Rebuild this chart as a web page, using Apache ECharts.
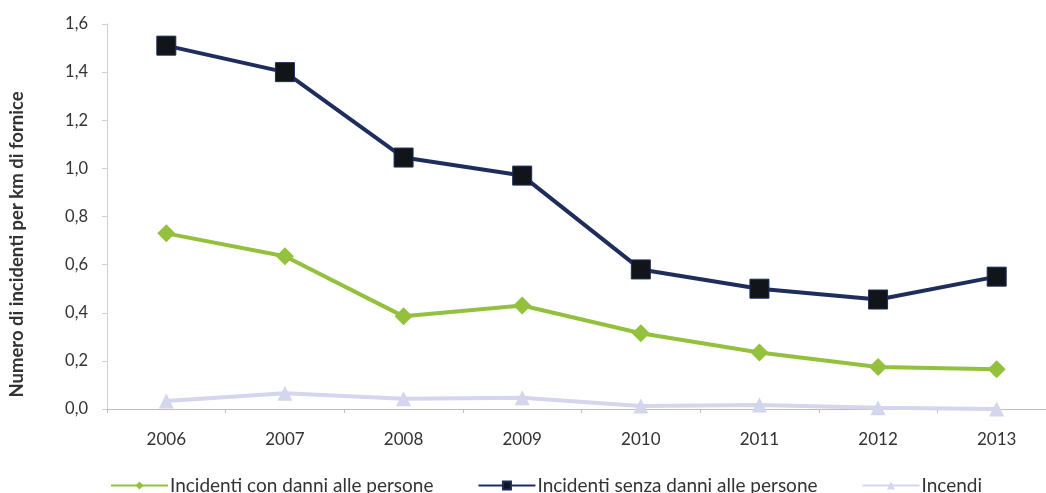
<!DOCTYPE html>
<html><head><meta charset="utf-8">
<script src="https://cdn.jsdelivr.net/npm/echarts@6/dist/echarts.min.js"></script>
<style>html,body{margin:0;padding:0;background:#fff;overflow:hidden}#c{width:1062px;height:493px}</style>
</head><body><div id="c"></div>
<script>
var categories = ['2006','2007','2008','2009','2010','2011','2012','2013'];
var conDanni = [0.73, 0.635, 0.385, 0.43, 0.315, 0.235, 0.175, 0.165];
var senzaDanni = [1.51, 1.40, 1.045, 0.97, 0.58, 0.50, 0.455, 0.55];
var incendi = [0.033, 0.065, 0.043, 0.047, 0.012, 0.017, 0.005, 0.0];
var seriesNames = ['Incidenti con danni alle persone','Incidenti senza danni alle persone','Incendi'];
var yTitle = 'Numero di incidenti per km di fornice';

var font = 'Lato, "Open Sans", sans-serif';
var chart = echarts.init(document.getElementById('c'));
chart.setOption({
  animation:false,
  textStyle:{fontFamily:font},
  grid:{left:106, top:24, width:950, height:385},
  legend:{
    left:105, top:471, itemWidth:57, itemHeight:10, itemGap:44,
    textStyle:{fontSize:19, color:'#333', fontFamily:font, padding:[0,0,0,-3]},
    data:seriesNames
  },
  xAxis:{
    type:'category', data:categories, boundaryGap:true,
    axisLine:{lineStyle:{color:'#c9b8b8', width:1}},
    axisTick:{show:true, length:4, inside:false, lineStyle:{color:'#c9b8b8'}},
    axisLabel:{fontSize:17, color:'#333', margin:22, fontFamily:font}
  },
  yAxis:{
    type:'value', min:0, max:1.6, interval:0.2,
    name:yTitle, nameLocation:'middle', nameGap:80, nameRotate:90,
    nameTextStyle:{fontSize:18.5, fontWeight:'bold', color:'#333', fontFamily:font, padding:[0,56,0,0]},
    axisLine:{show:true, lineStyle:{color:'#d8cccc'}},
    axisTick:{show:true, length:5, lineStyle:{color:'#d8cccc'}},
    splitLine:{show:false},
    axisLabel:{fontSize:16.5, color:'#333', margin:19, fontFamily:font,
      formatter:function(v){return v.toFixed(1).replace('.',',');}}
  },
  series:[
    {name:seriesNames[0], type:'line', data:conDanni, symbol:'diamond', symbolSize:18,
     lineStyle:{color:'#93c13e', width:4}, itemStyle:{color:'#93c13e'}},
    {name:seriesNames[1], type:'line', data:senzaDanni, symbol:'rect', symbolSize:19,
     lineStyle:{color:'#1e2d5c', width:4}, itemStyle:{color:'#111418', borderColor:'#1e2d5c', borderWidth:1}},
    {name:seriesNames[2], type:'line', data:incendi, symbol:'triangle', symbolSize:15,
     lineStyle:{color:'#d3d6ec', width:4}, itemStyle:{color:'#d3d6ec'}}
  ]
});
</script></body></html>
